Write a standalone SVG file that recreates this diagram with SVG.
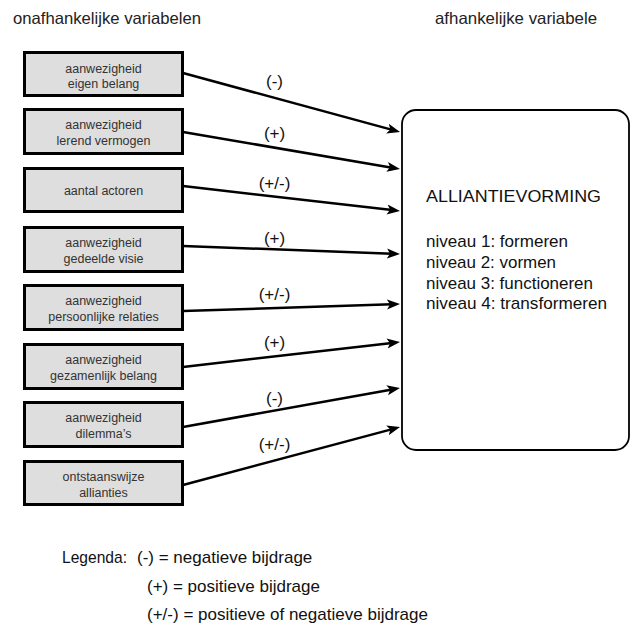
<svg xmlns="http://www.w3.org/2000/svg" width="631" height="633" viewBox="0 0 631 633">
<style>
text{font-family:"Liberation Sans",Arial,sans-serif;}
.hd{font-size:16.5px;fill:#222;}
.box{fill:#dedede;stroke:#000;stroke-width:3;}
.bl{font-size:12.5px;fill:#333;text-anchor:middle;}
.edge{fill:none;stroke:#000;stroke-width:2.5;marker-end:url(#ah);}
.el{font-size:17px;fill:#111;text-anchor:middle;}
.big{font-size:17px;fill:#111;}
.lg{font-size:17px;fill:#111;}
</style>
<defs>
<marker id="ah" markerUnits="userSpaceOnUse" markerWidth="14" markerHeight="11" refX="5" refY="5" orient="auto" viewBox="0 0 14 10">
<path d="M0,0 L13,5 L0,10 L3,5 z" fill="#000"/>
</marker>
</defs>
<rect width="631" height="633" fill="#fff"/>
<text class="hd" x="13" y="24" textLength="188" lengthAdjust="spacingAndGlyphs">onafhankelijke variabelen</text>
<text class="hd" x="435" y="24" textLength="162" lengthAdjust="spacingAndGlyphs">afhankelijke variabele</text>

<g id="connectors">
<line class="edge" x1="183" y1="73" x2="392.3" y2="129.9"/>
<line class="edge" x1="183" y1="132" x2="392.1" y2="167.7"/>
<line class="edge" x1="183" y1="186" x2="392.05" y2="210.1"/>
<line class="edge" x1="183" y1="246" x2="392" y2="253.7"/>
<line class="edge" x1="183" y1="311" x2="392" y2="304.26"/>
<line class="edge" x1="183" y1="367" x2="392.05" y2="342.9"/>
<line class="edge" x1="183" y1="427" x2="392.1" y2="389.4"/>
<line class="edge" x1="183" y1="485" x2="392.3" y2="429.1"/>
<text class="el" x="274.5" y="87">(-)</text>
<text class="el" x="274.5" y="139">(+)</text>
<text class="el" x="274.5" y="189">(+/-)</text>
<text class="el" x="274.5" y="244">(+)</text>
<text class="el" x="274.5" y="300">(+/-)</text>
<text class="el" x="274.5" y="348">(+)</text>
<text class="el" x="274.5" y="404">(-)</text>
<text class="el" x="274.5" y="450">(+/-)</text>
</g>

<g id="n1"><rect class="box" x="24.5" y="52.5" width="158" height="43"/>
<text class="bl" x="103.5" y="73">aanwezigheid</text><text class="bl" x="103.5" y="88">eigen belang</text></g>
<g id="n2"><rect class="box" x="24.5" y="109.5" width="158" height="44"/>
<text class="bl" x="103.5" y="129">aanwezigheid</text><text class="bl" x="103.5" y="145">lerend vermogen</text></g>
<g id="n3"><rect class="box" x="24.5" y="168.5" width="158" height="43"/>
<text class="bl" x="103.5" y="194.5">aantal actoren</text></g>
<g id="n4"><rect class="box" x="24.5" y="227.5" width="158" height="44"/>
<text class="bl" x="103.5" y="247">aanwezigheid</text><text class="bl" x="103.5" y="263">gedeelde visie</text></g>
<g id="n5"><rect class="box" x="24.5" y="285.5" width="158" height="44"/>
<text class="bl" x="103.5" y="305">aanwezigheid</text><text class="bl" x="103.5" y="321">persoonlijke relaties</text></g>
<g id="n6"><rect class="box" x="24.5" y="344.5" width="158" height="44"/>
<text class="bl" x="103.5" y="364">aanwezigheid</text><text class="bl" x="103.5" y="380">gezamenlijk belang</text></g>
<g id="n7"><rect class="box" x="24.5" y="402.5" width="158" height="44"/>
<text class="bl" x="103.5" y="422">aanwezigheid</text><text class="bl" x="103.5" y="438">dilemma’s</text></g>
<g id="n8"><rect class="box" x="24.5" y="461.5" width="158" height="43"/>
<text class="bl" x="103.5" y="481">ontstaanswijze</text><text class="bl" x="103.5" y="497">allianties</text></g>

<g id="target">
<rect x="402" y="110" width="227" height="340" rx="14" ry="14" fill="#fff" stroke="#000" stroke-width="1.8"/>
<text class="big" x="426" y="202" textLength="175" lengthAdjust="spacingAndGlyphs">ALLIANTIEVORMING</text>
<text class="big" x="426" y="247" textLength="142" lengthAdjust="spacingAndGlyphs">niveau 1: formeren</text>
<text class="big" x="426" y="268" textLength="130" lengthAdjust="spacingAndGlyphs">niveau 2: vormen</text>
<text class="big" x="426" y="288.5" textLength="167" lengthAdjust="spacingAndGlyphs">niveau 3: functioneren</text>
<text class="big" x="426" y="309" textLength="181" lengthAdjust="spacingAndGlyphs">niveau 4: transformeren</text>
</g>

<g id="legend">
<text class="lg" x="62" y="563" textLength="65" lengthAdjust="spacingAndGlyphs">Legenda:</text>
<text class="lg" x="137" y="563">(-) = negatieve bijdrage</text>
<text class="lg" x="147" y="592">(+) = positieve bijdrage</text>
<text class="lg" x="147" y="620" textLength="281" lengthAdjust="spacingAndGlyphs">(+/-) = positieve of negatieve bijdrage</text>
</g>
</svg>
